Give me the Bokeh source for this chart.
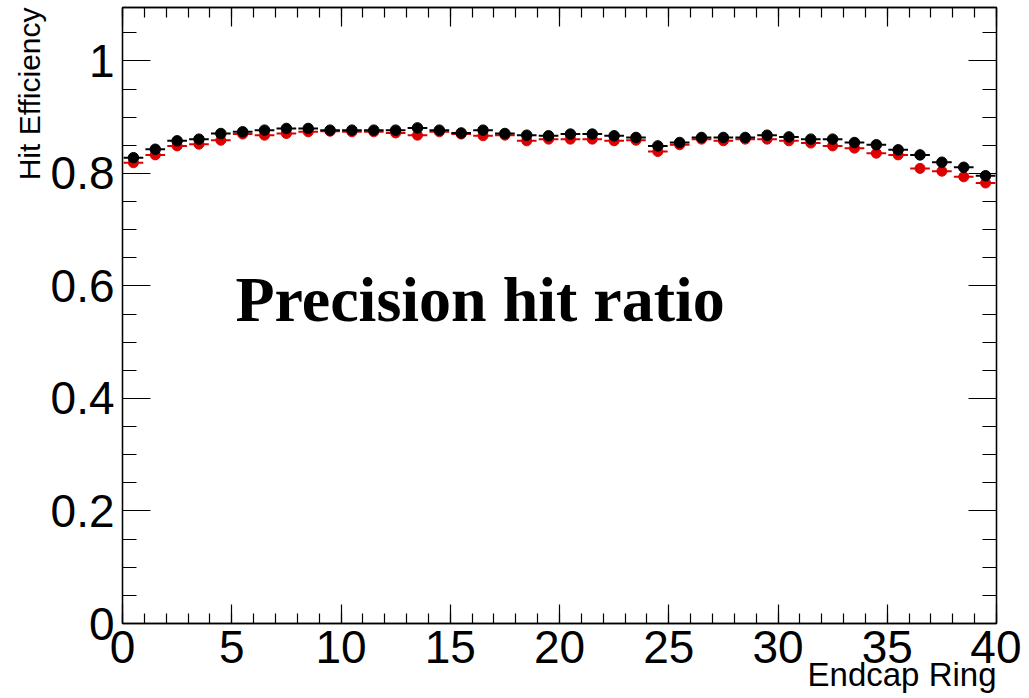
import numpy as np
from bokeh.plotting import figure
from bokeh.models import SingleIntervalTicker, LinearAxis, Label, Range1d, Title
from bokeh.embed import file_html
from bokeh.resources import INLINE

# ---- data ----
ring_bins = list(range(40))            # endcap ring bin index (bin i spans [i, i+1])
bin_half_width = 0.45
black_eff = [0.828, 0.843, 0.858, 0.861, 0.871, 0.874, 0.877, 0.880, 0.880, 0.877,
             0.877, 0.877, 0.877, 0.881, 0.877, 0.872, 0.877, 0.871, 0.868, 0.867,
             0.870, 0.870, 0.867, 0.864, 0.849, 0.855, 0.864, 0.864, 0.864, 0.868,
             0.865, 0.861, 0.861, 0.855, 0.851, 0.842, 0.833, 0.820, 0.811, 0.796]
red_eff = [0.819, 0.833, 0.849, 0.852, 0.859, 0.870, 0.868, 0.871, 0.874, 0.875,
           0.874, 0.874, 0.872, 0.868, 0.874, 0.870, 0.867, 0.868, 0.858, 0.861,
           0.861, 0.861, 0.858, 0.859, 0.839, 0.851, 0.861, 0.858, 0.861, 0.861,
           0.858, 0.854, 0.849, 0.845, 0.836, 0.833, 0.809, 0.804, 0.794, 0.783]
y_tick_overrides = {0: "0", 1: "1"}
x_title = "Endcap Ring"
y_title = "Hit Efficiency"
annotation = "Precision hit ratio"

centers = np.array(ring_bins) + 0.5

p = figure(width=1021, height=698, x_range=Range1d(0, 40), y_range=Range1d(0, 1.095),
           output_backend="svg", toolbar_location=None,
           min_border_left=122, min_border_right=25, min_border_top=7, min_border_bottom=75)
p.xgrid.visible = False
p.ygrid.visible = False
p.outline_line_color = "black"
p.outline_line_width = 1.3
p.background_fill_color = "white"
p.border_fill_color = "white"

bottom_axis = p.below[0]
left_axis = p.left[0]
top_axis = LinearAxis()
right_axis = LinearAxis()
p.add_layout(top_axis, "above")
p.add_layout(right_axis, "right")

def style(ax, ticker, major_in, minor_in, show_labels):
    ax.ticker = ticker
    ax.major_tick_in = major_in
    ax.major_tick_out = 0
    ax.minor_tick_in = minor_in
    ax.minor_tick_out = 0
    ax.axis_line_color = "black"
    ax.axis_line_width = 1.3
    ax.major_tick_line_color = "black"
    ax.minor_tick_line_color = "black"
    ax.major_tick_line_width = 1.2
    ax.minor_tick_line_width = 1.2
    if show_labels:
        ax.major_label_text_font = "Liberation Sans"
        ax.major_label_text_font_size = "46px"
        ax.major_label_text_color = "black"
    else:
        ax.major_label_text_font_size = "0px"
        ax.major_label_standoff = 0

xt = SingleIntervalTicker(interval=5, num_minor_ticks=5)
yt = SingleIntervalTicker(interval=0.2, num_minor_ticks=4)
style(bottom_axis, xt, 19, 10, True)
style(top_axis, xt, 19, 10, False)
style(left_axis, yt, 28, 14, True)
style(right_axis, yt, 28, 14, False)
bottom_axis.major_label_standoff = 7
left_axis.major_label_standoff = 8
left_axis.major_label_overrides = y_tick_overrides

p.add_layout(Title(text=x_title, align="right", standoff=-24, text_font="Liberation Sans",
                   text_font_size="33px", text_font_style="normal", text_color="black"), "below")
p.add_layout(Title(text=y_title, align="right", standoff=3, text_font="Liberation Sans",
                   text_font_size="30px", text_font_style="normal", text_color="black"), "left")

# red series
p.segment(x0=centers - bin_half_width, x1=centers + bin_half_width, y0=red_eff, y1=red_eff,
          line_color="#dd0000", line_width=2)
p.scatter(centers, red_eff, size=10, fill_color="#dd0000", line_color="#dd0000")
# black series
p.segment(x0=centers - bin_half_width, x1=centers + bin_half_width, y0=black_eff, y1=black_eff,
          line_color="black", line_width=2)
p.scatter(centers, black_eff, size=10.5, fill_color="black", line_color="black")

p.add_layout(Label(x=5.17, y=0.576, text=annotation, text_font="Liberation Serif",
                   text_font_style="bold", text_font_size="64px", text_color="black",
                   text_align="left", text_baseline="alphabetic"))

open("out.html", "w").write(file_html(p, INLINE))
